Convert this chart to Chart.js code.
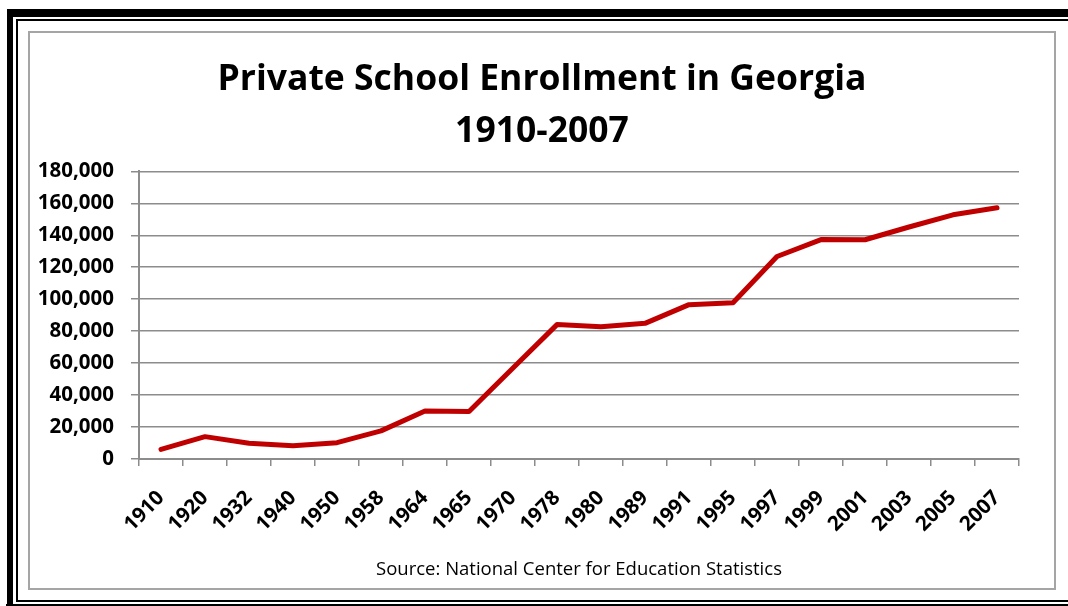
<!DOCTYPE html>
<html><head><meta charset="utf-8">
<script src="https://cdn.jsdelivr.net/npm/chart.js@4.4.1/dist/chart.umd.min.js"></script>
<style>
html,body{margin:0;padding:0;background:#fff;}
body{width:1068px;height:606px;position:relative;overflow:hidden;}
.b{position:absolute;background:#000;}
#frame{position:absolute;left:28px;top:31px;width:1024px;height:555px;border:2px solid #a5a5a5;}
#wrap{position:absolute;left:30px;top:33px;width:1024px;height:555px;}
</style></head><body>
<div class="b" style="left:7px;top:9px;width:1061px;height:8px"></div>
<div class="b" style="left:7px;top:9px;width:6px;height:597px"></div>
<div class="b" style="left:16px;top:19px;width:1052px;height:2px"></div>
<div class="b" style="left:16px;top:19px;width:2px;height:583px"></div>
<div class="b" style="left:16px;top:600px;width:1052px;height:2px"></div>
<div class="b" style="left:6px;top:604px;width:1062px;height:2px"></div>
<div id="frame"></div>
<div id="wrap"><canvas id="c" width="1024" height="555"></canvas></div>
<script>
const categories = ['1910','1920','1932','1940','1950','1958','1964','1965','1970','1978','1980','1989','1991','1995','1997','1999','2001','2003','2005','2007'];
const enrollment = [6000, 14000, 9800, 8300, 10200, 17600, 30100, 29700, 57000, 84100, 82800, 84900, 96600, 97800, 126700, 137300, 137200, 145200, 152800, 157200];
const titleLines = ['Private School Enrollment in Georgia', '1910-2007'];
const sourceText = 'Source: National Center for Education Statistics';
const yMin = 0, yMax = 180000, yStep = 20000;

const gridGray = '#8c8c8c';
new Chart(document.getElementById('c'), {
  type: 'line',
  data: {
    labels: categories,
    datasets: [{
      data: enrollment,
      borderColor: '#C00000',
      borderWidth: 5,
      pointRadius: 0,
      tension: 0,
      borderCapStyle: 'round',
      borderJoinStyle: 'round',
      fill: false
    }]
  },
  options: {
    responsive: false,
    devicePixelRatio: 1,
    animation: false,
    layout: { padding: 0 },
    plugins: {
      legend: { display: false },
      tooltip: { enabled: false },
      title: {
        display: true,
        text: titleLines,
        color: '#000',
        font: { family: 'Open Sans', weight: 'bold', size: 35.5, lineHeight: 1.47 },
        padding: { top: 21, bottom: 13 }
      }
    },
    scales: {
      x: {
        type: 'category',
        offset: true,
        grid: { offset: true, drawOnChartArea: false, drawTicks: true, tickLength: 7, color: gridGray, lineWidth: 1.5 },
        border: { color: gridGray, width: 2 },
        ticks: { autoSkip: false, minRotation: 45, maxRotation: 45, color: '#000', padding: 20,
                 font: { family: 'Open Sans', weight: 'bold', size: 20.5 } },
        title: { display: true, text: sourceText, color: '#000', padding: { top: 8, bottom: 7 },
                 font: { family: 'Open Sans', size: 18.5 } },
        afterFit: s => { s.height = 129; }
      },
      y: {
        min: yMin, max: yMax,
        ticks: { stepSize: yStep, color: '#000', padding: 17,
                 font: { family: 'Open Sans', weight: 'bold', size: 20.5 },
                 callback: v => v.toLocaleString('en-US') },
        grid: { color: gridGray, lineWidth: 1.5, tickLength: 8 },
        border: { color: gridGray, width: 2 },
        afterFit: s => { s.width = 109; }
      },
      yRight: {
        position: 'right',
        display: true,
        ticks: { display: false },
        grid: { display: false, drawTicks: false },
        border: { display: false },
        afterFit: s => { s.width = 35; }
      }
    }
  }
});
</script>
</body></html>
